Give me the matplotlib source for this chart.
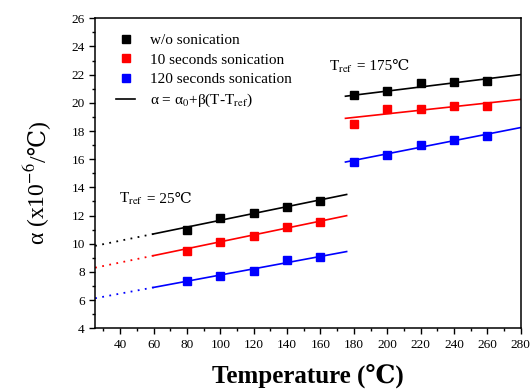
import numpy as np
import matplotlib
matplotlib.use("Agg")
import matplotlib.pyplot as plt
from matplotlib.ticker import MultipleLocator

plt.rcParams['font.family'] = ['Liberation Serif', 'DejaVu Serif', 'Noto Sans CJK SC']
plt.rcParams['mathtext.fontset'] = 'stix'

temps = [80, 100, 120, 140, 160, 180, 200, 220, 240, 260]
wo_sonic = [10.95, 11.8, 12.2, 12.6, 13.03, 20.57, 20.83, 21.4, 21.47, 21.54]
sonic_10s = [9.48, 10.15, 10.52, 11.18, 11.54, 18.52, 19.58, 19.58, 19.77, 19.77]
sonic_120s = [7.35, 7.69, 8.09, 8.82, 9.04, 15.8, 16.32, 16.98, 17.38, 17.62]

# fit parameters: alpha = a0 + beta*(T - Tref)
tref_low, tref_high = 25, 175
a0_low = [9.85, 8.30, 6.13]
beta_low = [0.0242, 0.0245, 0.0220]
a0_high = [20.47, 18.90, 15.80]
beta_high = [0.0146, 0.0128, 0.0233]

colors = ['black', 'red', 'blue']
labels = ['w/o sonication', '10 seconds sonication', '120 seconds sonication']

fig = plt.figure(figsize=(5.32, 3.91), dpi=100)
ax = fig.add_axes([0.1788, 0.1604, 0.80, 0.7928])

for i, ys in enumerate([wo_sonic, sonic_10s, sonic_120s]):
    c = colors[i]
    ax.plot(temps, ys, 's', color=c, ms=5.5, label=labels[i], zorder=3)
    t = np.array([25, 60])
    ax.plot(t, a0_low[i] + beta_low[i] * (t - tref_low), color=c, lw=1.3, ls=(0, (1, 3)))
    t = np.array([60, 175.7])
    ax.plot(t, a0_low[i] + beta_low[i] * (t - tref_low), color=c, lw=1.2)
    t = np.array([175, 280])
    ax.plot(t, a0_high[i] + beta_high[i] * (t - tref_high), color=c, lw=1.2)

ax.plot([], [], color='black', lw=1.2, label=r'α = α$_0$+β(T-T$_{\rm ref}$)')

ax.legend(loc='upper left', frameon=False, fontsize=11, handlelength=1.2,
          handletextpad=1.0, labelspacing=0.38, borderaxespad=0.3,
          bbox_to_anchor=(0.025, 0.985))

# annotations split at the subscript so the ℃ can come from a fallback font
for x, y, rest in [(179.4, 22.3, ' = 175℃'), (53.6, 12.9, ' = 25℃')]:
    ax.text(x, y, r'T$_{\rm ref}$', fontsize=11, ha='right', va='baseline')
    ax.text(x, y, rest, fontsize=11, ha='left', va='baseline')

ax.set_xlim(25, 280)
ax.set_ylim(4, 26)
ax.set_xticks(np.arange(40, 281, 20))
ax.xaxis.set_minor_locator(MultipleLocator(10))
ax.yaxis.set_major_locator(MultipleLocator(2))
ax.yaxis.set_minor_locator(MultipleLocator(1))
ax.tick_params(which='major', direction='out', length=4, width=1, labelsize=9.5)
ax.tick_params(which='minor', direction='out', length=2.5, width=1)
for s in ax.spines.values():
    s.set_linewidth(1.1)

ax.set_xlabel('Temperature (℃)', fontsize=18, fontweight='bold', labelpad=10)

# y label in two rotated pieces
fig.text(0.085, 0.585, r'α (x10$^{-6}$', fontsize=17, rotation=90,
         rotation_mode='anchor', ha='right', va='baseline')
fig.text(0.085, 0.585, '/℃)', fontsize=17, rotation=90,
         rotation_mode='anchor', ha='left', va='baseline')

fig.savefig('out.png', dpi=100)
